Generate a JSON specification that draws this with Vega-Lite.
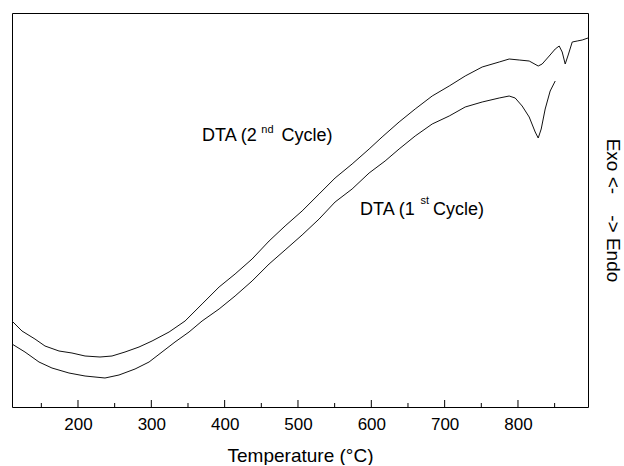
{
  "$schema": "https://vega.github.io/schema/vega-lite/v6.json",
  "width": 576,
  "height": 394,
  "padding": {"left": 10, "top": 13, "right": 5, "bottom": 0},
  "config": {
    "font": "Liberation Sans",
    "view": {"stroke": "black", "strokeWidth": 1},
    "axis": {"labelFont": "Liberation Sans", "titleFont": "Liberation Sans", "labelColor": "black", "titleColor": "black", "titleFontWeight": "normal", "grid": false}
  },
  "datasets": {
    "curves": [
      {"cycle": "2nd", "T": 110, "v": 86}, {"cycle": "2nd", "T": 123.6, "v": 76}, {"cycle": "2nd", "T": 141.3, "v": 68}, {"cycle": "2nd", "T": 155, "v": 61}, {"cycle": "2nd", "T": 174.1, "v": 56}, {"cycle": "2nd", "T": 191.8, "v": 54}, {"cycle": "2nd", "T": 209.6, "v": 51}, {"cycle": "2nd", "T": 230, "v": 50}, {"cycle": "2nd", "T": 246.4, "v": 51}, {"cycle": "2nd", "T": 264.1, "v": 55}, {"cycle": "2nd", "T": 283.2, "v": 60}, {"cycle": "2nd", "T": 301, "v": 66}, {"cycle": "2nd", "T": 324.2, "v": 75}, {"cycle": "2nd", "T": 346, "v": 86}, {"cycle": "2nd", "T": 369.2, "v": 103}, {"cycle": "2nd", "T": 392.4, "v": 120}, {"cycle": "2nd", "T": 414.2, "v": 133}, {"cycle": "2nd", "T": 437.4, "v": 148}, {"cycle": "2nd", "T": 460.6, "v": 166}, {"cycle": "2nd", "T": 482.4, "v": 181}, {"cycle": "2nd", "T": 505.6, "v": 196}, {"cycle": "2nd", "T": 528.8, "v": 213}, {"cycle": "2nd", "T": 550.6, "v": 229}, {"cycle": "2nd", "T": 573.8, "v": 243}, {"cycle": "2nd", "T": 597, "v": 258}, {"cycle": "2nd", "T": 614.7, "v": 270}, {"cycle": "2nd", "T": 637.9, "v": 285}, {"cycle": "2nd", "T": 659.8, "v": 298}, {"cycle": "2nd", "T": 683, "v": 311}, {"cycle": "2nd", "T": 706.2, "v": 321}, {"cycle": "2nd", "T": 728, "v": 331}, {"cycle": "2nd", "T": 751.2, "v": 340}, {"cycle": "2nd", "T": 774.4, "v": 345}, {"cycle": "2nd", "T": 788, "v": 348}, {"cycle": "2nd", "T": 801.7, "v": 347}, {"cycle": "2nd", "T": 815.3, "v": 346}, {"cycle": "2nd", "T": 827.6, "v": 341}, {"cycle": "2nd", "T": 833, "v": 343}, {"cycle": "2nd", "T": 842.6, "v": 351}, {"cycle": "2nd", "T": 850.8, "v": 358}, {"cycle": "2nd", "T": 856.2, "v": 361}, {"cycle": "2nd", "T": 860.3, "v": 355}, {"cycle": "2nd", "T": 864.4, "v": 343}, {"cycle": "2nd", "T": 868.5, "v": 352}, {"cycle": "2nd", "T": 874, "v": 365}, {"cycle": "2nd", "T": 880.8, "v": 366}, {"cycle": "2nd", "T": 887.6, "v": 367}, {"cycle": "2nd", "T": 895.5, "v": 369},
      {"cycle": "1st", "T": 110, "v": 63}, {"cycle": "1st", "T": 127.7, "v": 55}, {"cycle": "1st", "T": 146.8, "v": 45}, {"cycle": "1st", "T": 164.5, "v": 39}, {"cycle": "1st", "T": 187.7, "v": 34}, {"cycle": "1st", "T": 209.6, "v": 31}, {"cycle": "1st", "T": 236.8, "v": 29}, {"cycle": "1st", "T": 255.9, "v": 32}, {"cycle": "1st", "T": 277.8, "v": 38}, {"cycle": "1st", "T": 296.9, "v": 45}, {"cycle": "1st", "T": 314.6, "v": 55}, {"cycle": "1st", "T": 332.3, "v": 65}, {"cycle": "1st", "T": 351.4, "v": 75}, {"cycle": "1st", "T": 369.2, "v": 86}, {"cycle": "1st", "T": 392.4, "v": 98}, {"cycle": "1st", "T": 414.2, "v": 111}, {"cycle": "1st", "T": 437.4, "v": 126}, {"cycle": "1st", "T": 460.6, "v": 143}, {"cycle": "1st", "T": 482.4, "v": 157}, {"cycle": "1st", "T": 505.6, "v": 172}, {"cycle": "1st", "T": 528.8, "v": 188}, {"cycle": "1st", "T": 550.6, "v": 205}, {"cycle": "1st", "T": 573.8, "v": 218}, {"cycle": "1st", "T": 597, "v": 234}, {"cycle": "1st", "T": 618.8, "v": 246}, {"cycle": "1st", "T": 637.9, "v": 258}, {"cycle": "1st", "T": 659.8, "v": 271}, {"cycle": "1st", "T": 683, "v": 283}, {"cycle": "1st", "T": 706.2, "v": 291}, {"cycle": "1st", "T": 728, "v": 300}, {"cycle": "1st", "T": 751.2, "v": 305}, {"cycle": "1st", "T": 774.4, "v": 309}, {"cycle": "1st", "T": 788, "v": 311}, {"cycle": "1st", "T": 796.2, "v": 309}, {"cycle": "1st", "T": 805.7, "v": 301}, {"cycle": "1st", "T": 815.3, "v": 290}, {"cycle": "1st", "T": 823.5, "v": 275}, {"cycle": "1st", "T": 827.6, "v": 269}, {"cycle": "1st", "T": 831.7, "v": 278}, {"cycle": "1st", "T": 837.1, "v": 298}, {"cycle": "1st", "T": 843.9, "v": 316}, {"cycle": "1st", "T": 850.8, "v": 326}
    ],
    "labels": [
      {"T": 369.2, "v": 266, "t": "DTA (2"}, {"T": 477.5, "v": 266, "t": "Cycle)"},
      {"T": 584.7, "v": 192, "t": "DTA (1"}, {"T": 684, "v": 192, "t": "Cycle)"}
    ],
    "sups": [
      {"T": 450, "v": 274, "t": "nd"}, {"T": 667, "v": 203, "t": "st"}
    ],
    "major": [{"T": 200}, {"T": 300}, {"T": 400}, {"T": 500}, {"T": 600}, {"T": 700}, {"T": 800}],
    "minor": [{"T": 150}, {"T": 250}, {"T": 350}, {"T": 450}, {"T": 550}, {"T": 650}, {"T": 750}, {"T": 850}]
  },
  "layer": [
    {
      "data": {"name": "curves"},
      "mark": {"type": "line", "color": "#111111", "strokeWidth": 1},
      "encoding": {
        "x": {"field": "T", "type": "quantitative", "scale": {"domain": [110, 895.5], "nice": false, "zero": false},
          "axis": {"orient": "bottom", "values": [200, 300, 400, 500, 600, 700, 800], "ticks": false, "domain": false, "labelFontSize": 17, "labelPadding": 9, "title": "Temperature (°C)", "titleFontSize": 19, "titlePadding": 14}},
        "y": {"field": "v", "type": "quantitative", "scale": {"domain": [0, 394], "nice": false, "zero": false},
          "axis": {"orient": "right", "labels": false, "ticks": false, "domain": false, "title": "Exo <-\u00a0\u00a0\u00a0\u00a0-> Endo", "titleFontSize": 19, "titlePadding": 14}},
        "detail": {"field": "cycle"}
      }
    },
    {
      "data": {"name": "major"},
      "mark": {"type": "rule", "color": "black", "strokeWidth": 1},
      "encoding": {
        "x": {"field": "T", "type": "quantitative", "axis": null},
        "y": {"datum": 0, "type": "quantitative", "axis": null},
        "y2": {"datum": 7}
      }
    },
    {
      "data": {"name": "minor"},
      "mark": {"type": "rule", "color": "black", "strokeWidth": 1},
      "encoding": {
        "x": {"field": "T", "type": "quantitative", "axis": null},
        "y": {"datum": 0, "type": "quantitative", "axis": null},
        "y2": {"datum": 4}
      }
    },
    {
      "data": {"name": "labels"},
      "mark": {"type": "text", "align": "left", "baseline": "alphabetic", "fontSize": 18, "font": "Liberation Sans", "color": "black"},
      "encoding": {
        "x": {"field": "T", "type": "quantitative", "axis": null},
        "y": {"field": "v", "type": "quantitative", "axis": null},
        "text": {"field": "t"}
      }
    },
    {
      "data": {"name": "sups"},
      "mark": {"type": "text", "align": "left", "baseline": "alphabetic", "fontSize": 11, "font": "Liberation Sans", "color": "black"},
      "encoding": {
        "x": {"field": "T", "type": "quantitative", "axis": null},
        "y": {"field": "v", "type": "quantitative", "axis": null},
        "text": {"field": "t"}
      }
    }
  ],
  "resolve": {"axis": {"x": "independent", "y": "independent"}}
}
